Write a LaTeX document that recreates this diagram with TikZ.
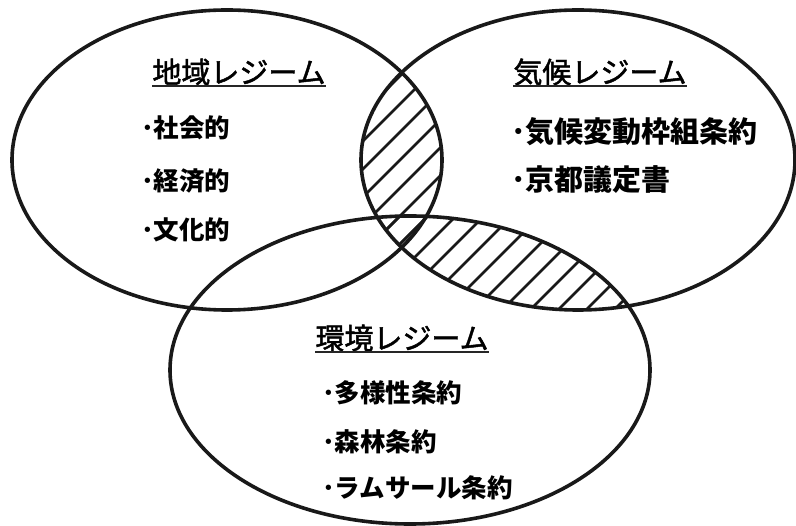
\documentclass[tikz,border=0pt]{standalone}
\usepackage{fontspec}
\setmainfont{Noto Sans CJK JP}
\newfontfamily\ttlfont{Noto Sans CJK JP}[FakeBold=1.6]
\begin{document}
\begin{tikzpicture}[x=1pt,y=-1pt,
  ring/.style={line width=3.6pt,draw=black!90},
  hatchline/.style={line width=2.6pt,black!90},
  uline/.style={line width=1.6pt,black!85},
  ttl/.style={font=\ttlfont\fontsize{29}{30}\selectfont,inner sep=0pt},
  itm/.style={font=\bfseries\fontsize{25.5}{27}\selectfont,inner sep=0pt,anchor=west},
  itmr/.style={font=\bfseries\fontsize{29}{30}\selectfont,inner sep=0pt,anchor=west}]
\useasboundingbox (0,0) rectangle (796,526);
\fill[white] (0,0) rectangle (796,526);
% hatching: right ellipse intersected with left ellipse
\begin{scope}
  \clip (578,160) ellipse [x radius=217, y radius=150];
  \clip (227,160) ellipse [x radius=215, y radius=150];
  \foreach \c in {476,504,...,952} \draw[hatchline] (\c-450,450) -- (\c,0);
\end{scope}
% hatching: right ellipse intersected with bottom ellipse
\begin{scope}
  \clip (578,160) ellipse [x radius=217, y radius=150];
  \clip (410,370) ellipse [x radius=240, y radius=154];
  \foreach \c in {476,504,...,952} \draw[hatchline] (\c-450,450) -- (\c,0);
\end{scope}
% ellipses
\draw[ring] (227,160) ellipse [x radius=215, y radius=150];
\draw[ring] (578,160) ellipse [x radius=217, y radius=150];
\draw[ring] (410,370) ellipse [x radius=240, y radius=154];
% titles
\node[ttl] (tL) at (239,72) {地域レジーム};
\node[ttl] (tR) at (600,72) {気候レジーム};
\node[ttl] (tB) at (402,338) {環境レジーム};
\foreach \t in {tL,tR,tB}
  \draw[uline] ([yshift=-3pt]\t.base west) -- ([yshift=-3pt]\t.base east);
% items
\node[itm] (l1) at (141,128) {･社会的};
\node[itm] (l2) at (141,181) {･経済的};
\node[itm] (l3) at (141,230) {･文化的};
\node[itmr] (r1) at (511,132) {･気候変動枠組条約};
\node[itmr] (r2) at (511,180) {･京都議定書};
\node[itm] (b1) at (322,393) {･多様性条約};
\node[itm] (b2) at (322,442) {･森林条約};
\node[itm] (b3) at (322,488) {･ラムサール条約};
\end{tikzpicture}
\end{document}
